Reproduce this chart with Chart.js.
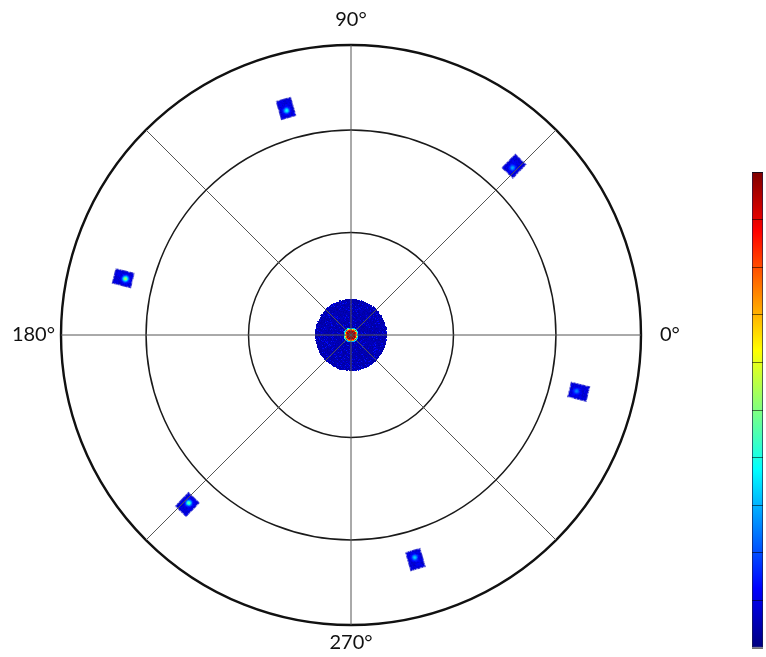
<!DOCTYPE html>
<html><head><meta charset="utf-8">
<script src="https://cdn.jsdelivr.net/npm/chart.js@4"></script>
<style>
html,body{margin:0;padding:0;background:#fff;overflow:hidden;width:766px;height:657px;}
#wrapMain{position:absolute;left:-29px;top:5px;width:760px;height:654px;}
#wrapBar{position:absolute;left:752px;top:162px;width:41px;height:496px;}
</style></head><body>
<div id="wrapMain"><canvas id="polar"></canvas></div>
<div id="wrapBar"><canvas id="cbar"></canvas></div>
<script>
// ---- data ----
const axisLabelAngles = [0, 90, 180, 270];
const axisLabelTexts = ['0°', '90°', '180°', '270°'];
const spokeStepDeg = 45;
const ringValues = [1, 2];
const radiusMax = 2.83;
const spotAnglesDeg = [46, 106, 166, 226, 286, 346];
const spotRadii = [2.29, 2.30, 2.29, 2.30, 2.28, 2.29];
const spotPeaks = [0.30, 0.40, 0.56, 0.50, 0.34, 0.26];
const centerRadii = [0];
const centerPeaks = [1.0];
const colorbarTicks = [0, 0.1, 0.2, 0.3, 0.4, 0.5, 0.6, 0.7, 0.8, 0.9, 1.0];

// ---- helpers ----
const N = 360;
const angleOfIndex = i => (90 - i + 360) % 360;
const indexOfAngle = a => ((90 - Math.round(a)) % 360 + 360) % 360;
const labels = Array.from({length: N}, (_, i) => angleOfIndex(i) + '°');

function clamp(x){return Math.max(0, Math.min(1, x));}
function jet(v){
  v = clamp(v);
  return [clamp(1.5 - Math.abs(4*v - 3))*255, clamp(1.5 - Math.abs(4*v - 2))*255, clamp(1.5 - Math.abs(4*v - 1))*255];
}
function hash(x, y){ const s = Math.sin(x*12.9898 + y*78.233) * 43758.5453; return s - Math.floor(s); }

function makeBlob(peak, seed){
  const W = 18, H = 22, cx = 9, cy = 11;
  const c = document.createElement('canvas'); c.width = W; c.height = H;
  const g = c.getContext('2d'); const img = g.createImageData(W, H);
  for (let y = 0; y < H; y++) for (let x = 0; x < W; x++) {
    const u = x + 0.5 - cx, v = y + 0.5 - cy;
    const eu = 8 - Math.abs(u), ev = 10 - Math.abs(v);
    const e = Math.min(eu, ev);
    if (e < 0) continue;
    const n = hash(x + seed*31, y + seed*17);
    let val = 0.09 + (n - 0.5) * 0.06;
    if (e < 1.2) val = 0.04 + n*0.04;
    const d2 = u*u + (v - 2.2)*(v - 2.2);
    val = val + (peak - val) * Math.exp(-d2 / (2*2.0*2.0));
    const col = jet(val);
    const k = (y*W + x)*4;
    img.data[k] = col[0]; img.data[k+1] = col[1]; img.data[k+2] = col[2];
    img.data[k+3] = e < 0.6 ? (n > 0.4 ? 200 : 90) : 255;
  }
  g.putImageData(img, 0, 0);
  return c;
}
function makeDisc(peak){
  const R = 36, S = 2*R + 2, c0 = S/2;
  const c = document.createElement('canvas'); c.width = S; c.height = S;
  const g = c.getContext('2d'); const img = g.createImageData(S, S);
  for (let y = 0; y < S; y++) for (let x = 0; x < S; x++) {
    const u = x + 0.5 - c0, v = y + 0.5 - c0;
    const r = Math.sqrt(u*u + v*v);
    const n = hash(x, y);
    if (r > R - 0.5 + n) continue;
    let val = 0.05 + (n - 0.5) * 0.04;
    if (n > 0.9) val = 0.10 + (n - 0.9) * 0.5;
    if (r < 4.5) val = peak*0.96;
    else if (r < 5.5) val = peak*(n > 0.5 ? 0.88 : 0.82);
    else if (r < 6.5) val = peak*(n > 0.5 ? 0.72 : 0.62);
    else if (r < 7.5) val = n > 0.5 ? 0.42 : 0.3;
    const col = jet(val);
    const k = (y*S + x)*4;
    img.data[k] = col[0]; img.data[k+1] = col[1]; img.data[k+2] = col[2]; img.data[k+3] = 255;
  }
  g.putImageData(img, 0, 0);
  return c;
}

// ---- build datasets ----
const spotData = new Array(N).fill(null);
const spotSprites = new Array(N).fill(null);
const spotRot = new Array(N).fill(0);
spotAnglesDeg.forEach((a, k) => {
  const i = indexOfAngle(a);
  spotData[i] = spotRadii[k];
  spotSprites[i] = makeBlob(spotPeaks[k], k + 1);
  spotRot[i] = 90 - a;
});
const centerData = new Array(N).fill(null);
const centerSprites = new Array(N).fill(null);
centerRadii.forEach((r, k) => { centerData[k] = r; centerSprites[k] = makeDisc(centerPeaks[k]); });

const labelPad = {0: 19, 90: 13, 180: 6, 270: 6};

new Chart(document.getElementById('polar'), {
  type: 'radar',
  data: {
    labels: labels,
    datasets: [
      {data: centerData, pointStyle: ctx => centerSprites[ctx.index] || 'circle', pointRadius: 5,
       borderColor: 'transparent', backgroundColor: 'transparent', fill: false, borderWidth: 0},
      {data: spotData, pointStyle: ctx => spotSprites[ctx.index] || 'circle', pointRotation: ctx => spotRot[ctx.index], pointRadius: 5,
       borderColor: 'transparent', backgroundColor: 'transparent', fill: false, borderWidth: 0}
    ]
  },
  options: {
    animation: false, events: [], responsive: true, maintainAspectRatio: false,
    plugins: {legend: {display: false}, tooltip: {enabled: false}},
    layout: {padding: 0},
    scales: {
      r: {
        min: 0, max: radiusMax, startAngle: 0,
        afterBuildTicks: s => { s.ticks = [0, ...ringValues, radiusMax].map(v => ({value: v})); },
        ticks: {display: false},
        grid: {
          circular: true, z: 1,
          color: ctx => ctx.tick && ctx.tick.value === radiusMax ? '#111' : '#1a1a1a',
          lineWidth: ctx => ctx.tick && ctx.tick.value === radiusMax ? 2.4 : 1.5
        },
        angleLines: {
          display: true,
          color: '#555',
          lineWidth: ctx => angleOfIndex(ctx.index) % spokeStepDeg === 0 ? 1 : 0
        },
        pointLabels: {
          display: true,
          font: {family: 'Lato', size: 20},
          color: '#111',
          padding: ctx => { const a = angleOfIndex(ctx.index); return labelPad[a] !== undefined ? labelPad[a] : 0; },
          callback: (label, i) => { const k = axisLabelAngles.indexOf(angleOfIndex(i)); return k >= 0 ? axisLabelTexts[k] : ''; }
        }
      }
    }
  }
});

// ---- colorbar ----
const jetStops = [0, 0.125, 0.375, 0.625, 0.875, 1];
new Chart(document.getElementById('cbar'), {
  type: 'bar',
  data: {labels: [''], datasets: [{
    data: [colorbarTicks[colorbarTicks.length - 1]],
    backgroundColor: ctx => {
      const ca = ctx.chart.chartArea; if (!ca) return '#00f';
      const gr = ctx.chart.ctx.createLinearGradient(0, ca.bottom, 0, ca.top);
      jetStops.forEach(s => { const c = jet(s); gr.addColorStop(s, `rgb(${c[0]|0},${c[1]|0},${c[2]|0})`); });
      return gr;
    },
    borderColor: '#1c1c48', borderWidth: 1, borderSkipped: false,
    barPercentage: 1, categoryPercentage: 1
  }]},
  options: {
    animation: false, events: [], responsive: true, maintainAspectRatio: false,
    plugins: {legend: {display: false}, tooltip: {enabled: false}},
    layout: {padding: 0},
    scales: {
      x: {display: false},
      y: {
        position: 'right', min: colorbarTicks[0], max: colorbarTicks[colorbarTicks.length - 1],
        afterBuildTicks: s => { s.ticks = colorbarTicks.map(v => ({value: v})); },
        afterFit: s => { s.width = 30; },
        grid: {z: 1, color: 'rgba(0,0,0,0.55)', drawTicks: false},
        border: {display: false},
        ticks: {font: {size: 10}, color: '#666', padding: 4}
      }
    }
  }
});
</script>
</body></html>
